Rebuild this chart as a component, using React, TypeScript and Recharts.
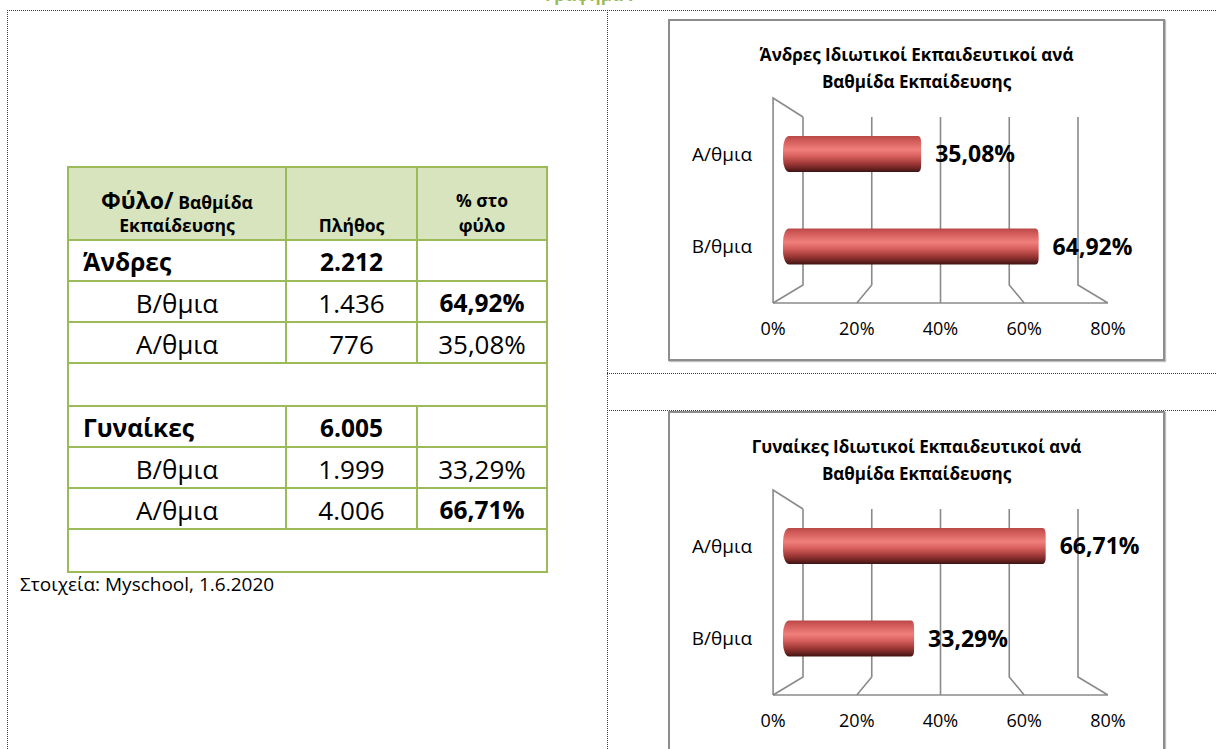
import React from 'react';
import { BarChart, Bar, XAxis, YAxis, LabelList, CartesianGrid } from 'recharts';

// ---------------- data ----------------
const categories = ['Α/θμια', 'Β/θμια'];
const menShare = [35.08, 64.92];
const womenShare = [66.71, 33.29];
const shareTicks = [0, 20, 40, 60, 80];
const menTitle = ['Άνδρες Ιδιωτικοί Εκπαιδευτικοί ανά', 'Βαθμίδα Εκπαίδευσης'];
const womenTitle = ['Γυναίκες Ιδιωτικοί Εκπαιδευτικοί ανά', 'Βαθμίδα Εκπαίδευσης'];

const groupNames = ['Άνδρες', 'Γυναίκες'];
const groupTotals = [2212, 6005];
const tableLevels = ['Β/θμια', 'Α/θμια'];
const menCounts = [1436, 776];
const womenCounts = [1999, 4006];
const headerBig = 'Φύλο/';
const headerSmall = ['Βαθμίδα', 'Εκπαίδευσης'];
const headerCount = 'Πλήθος';
const headerShare = ['% στο', 'φύλο'];
const sourceNote = 'Στοιχεία: Myschool, 1.6.2020';
const pageTitle = 'Γράφημα 7';

// ---------------- style / layout ----------------
const FONT = '"Open Sans", "Noto Sans", "DejaVu Sans", sans-serif';
const GREEN = '#9bbb59';
const HEADER_BG = '#d7e4bd';
const FRAME = '#8a8a8a';

const BOX_W = 497;
const BOX_H = 342;
const PLOT_LEFT = 115;
const PLOT_W = 315;
const PLOT_TOP = 89;
const PLOT_H = 185;
const X_AXIS_H = BOX_H - PLOT_TOP - PLOT_H;
const CX = PLOT_LEFT + PLOT_W / 2;
const BACK_K = 0.873;
const FRONT_K = 1.063;

const fmtShare = (v: number) => v.toFixed(2).replace('.', ',') + '%';
const fmtCount = (n: number) => String(n).replace(/\B(?=(\d{3})+(?!\d))/g, '.');

// 3D frame drawn through the grid generator (uses x-axis tick coordinates)
function frameLine(props: any) {
  const { x1, y1, y2, index } = props;
  const top = Math.min(y1, y2);
  const bottom = Math.max(y1, y2);
  const bx = CX + (x1 - CX) * BACK_K;
  const fx = CX + (x1 - CX) * FRONT_K;
  const gTop = top + 9;
  const gBot = bottom - 8;
  const base = bottom + 10;
  const wallTop = top - 10;
  let d = `M${bx},${gTop}L${bx},${gBot}L${fx},${base}`;
  if (Math.abs(x1 - PLOT_LEFT) < 1) {
    d += `M${fx},${base}L${fx},${wallTop}L${bx},${gTop}`;
  }
  if (Math.abs(x1 - (PLOT_LEFT + PLOT_W)) < 1) {
    d += `M${fx},${base}L${2 * CX - fx},${base}`;
  }
  return <path key={`f-${index}`} d={d} stroke={FRAME} strokeWidth={1.6} fill="none" />;
}

function FrontTick(props: any) {
  const { x, y, payload } = props;
  const fx = CX + (x - CX) * FRONT_K;
  return (
    <text x={fx} y={y} dy="0.71em" textAnchor="middle" fontFamily={FONT} fontSize={18} fill="#000">
      {payload.value}%
    </text>
  );
}

function CylinderBar(props: any) {
  const { x, y, width, height, gradId } = props;
  if (width <= 0) return null;
  const rl = 6;
  const ryl = height / 2.6;
  const rr = 3;
  const ryr = 7;
  const x2 = x + width;
  const y2 = y + height;
  const d = `M${x + rl},${y} L${x2 - rr},${y} Q${x2},${y} ${x2},${y + ryr} L${x2},${y2 - ryr} Q${x2},${y2} ${x2 - rr},${y2} L${x + rl},${y2} A${rl},${ryl} 0 0 1 ${x},${y2 - ryl} L${x},${y + ryl} A${rl},${ryl} 0 0 1 ${x + rl},${y} Z`;
  return <path d={d} fill={`url(#${gradId})`} />;
}

function ShareChart({ left, top, title, shares }: { left: number; top: number; title: string[]; shares: number[] }) {
  const data = categories.map((c, i) => ({ cat: c, value: shares[i] }));
  return (
    <div style={{ position: 'absolute', left, top, width: BOX_W, height: BOX_H }}>
      <div
        style={{
          position: 'absolute', left: 0, top: 0, width: BOX_W, height: BOX_H, boxSizing: 'border-box',
          border: '2px solid #8d8d8d', boxShadow: '1px 1px 1px rgba(0,0,0,0.25)', background: '#fff',
        }}
      />
      <div
        style={{
          position: 'absolute', left: 0, top: 21.5, width: BOX_W, textAlign: 'center', fontFamily: FONT,
          fontWeight: 700, fontSize: 17, lineHeight: '27px', color: '#000', whiteSpace: 'nowrap',
        }}
      >
        {title.map((t, i) => (
          <div key={i}>{t}</div>
        ))}
      </div>
      <div style={{ position: 'absolute', left: 0, top: 0 }}>
        <BarChart
          width={BOX_W}
          height={BOX_H}
          data={data}
          layout="vertical"
          margin={{ top: PLOT_TOP, right: BOX_W - PLOT_LEFT - PLOT_W, bottom: 0, left: 0 }}
        >
          <CartesianGrid horizontal={false} vertical={frameLine} />
          <XAxis
            type="number"
            domain={[0, 80]}
            ticks={shareTicks}
            interval={0}
            axisLine={false}
            tickLine={false}
            tickSize={0}
            tickMargin={29}
            height={X_AXIS_H}
            tick={(p: any) => <FrontTick {...p} />}
          />
          <YAxis
            type="category"
            dataKey="cat"
            width={PLOT_LEFT}
            axisLine={false}
            tickLine={false}
            tickSize={0}
            tickMargin={31}
            tick={{ fill: '#000', fontSize: 19, fontFamily: FONT }}
          />
          <Bar
            dataKey="value"
            barSize={36}
            isAnimationActive={false}
            shape={(p: any) => <CylinderBar {...p} gradId="cylGrad" />}
          >
            <LabelList
              dataKey="value"
              position="right"
              offset={14}
              formatter={(v: any) => fmtShare(Number(v))}
              fill="#000"
              fontSize={23}
              fontWeight={700}
              fontFamily={FONT}
            />
          </Bar>
        </BarChart>
      </div>
    </div>
  );
}

// ---------------- table ----------------
const COL_X = [68, 286, 417, 547];
const HEADER_H = 73;
const ROW_H = 41;
const BLANK_H = 43;
const TABLE_TOP = 167;

function Txt({ x, cy, anchor, size, weight, children }: any) {
  const w = 300;
  return (
    <div
      style={{
        position: 'absolute', top: cy - 15, height: 30, lineHeight: '30px',
        left: anchor === 'middle' ? x - w / 2 : x, width: w,
        textAlign: anchor === 'middle' ? 'center' : 'left',
        fontFamily: FONT, fontSize: size, fontWeight: weight, color: '#000', whiteSpace: 'nowrap',
      }}
    >
      {children}
    </div>
  );
}

function DataTable() {
  type Row = { kind: 'group' | 'level' | 'blank'; g: number; l?: number };
  const rows: Row[] = [];
  groupNames.forEach((_, g) => {
    rows.push({ kind: 'group', g });
    tableLevels.forEach((_, l) => rows.push({ kind: 'level', g, l }));
    rows.push({ kind: 'blank', g });
  });
  const ys: number[] = [TABLE_TOP, TABLE_TOP + HEADER_H];
  rows.forEach((r) => ys.push(ys[ys.length - 1] + (r.kind === 'blank' ? BLANK_H : ROW_H)));
  const bottom = ys[ys.length - 1];
  const colC = [0, 1, 2].map((i) => (COL_X[i] + COL_X[i + 1]) / 2);
  const els: any[] = [];

  els.push(
    <div key="hbg" style={{ position: 'absolute', left: COL_X[0], top: TABLE_TOP, width: COL_X[3] - COL_X[0], height: HEADER_H, background: HEADER_BG }} />
  );
  ys.forEach((y, i) =>
    els.push(<div key={`h${i}`} style={{ position: 'absolute', left: COL_X[0] - 1, top: y - 1, width: COL_X[3] - COL_X[0] + 2, height: 2, background: GREEN }} />)
  );
  [COL_X[0], COL_X[3]].forEach((x, i) =>
    els.push(<div key={`vo${i}`} style={{ position: 'absolute', left: x - 1, top: TABLE_TOP - 1, width: 2, height: bottom - TABLE_TOP + 2, background: GREEN }} />)
  );
  const segs: [number, number][] = [[ys[0], ys[1]]];
  rows.forEach((r, i) => {
    if (r.kind !== 'blank') segs.push([ys[i + 1], ys[i + 2]]);
  });
  segs.forEach(([a, b], si) =>
    [COL_X[1], COL_X[2]].forEach((x, ci) =>
      els.push(<div key={`vi${si}-${ci}`} style={{ position: 'absolute', left: x - 1, top: a - 1, width: 2, height: b - a + 2, background: GREEN }} />)
    )
  );

  const h1 = TABLE_TOP + 33;
  const h2 = TABLE_TOP + 58;
  els.push(
    <Txt key="th1" x={colC[0]} cy={h1} anchor="middle" size={17.5} weight={700}>
      <span style={{ fontSize: 23 }}>{headerBig}</span> {headerSmall[0]}
    </Txt>
  );
  els.push(<Txt key="th2" x={colC[0]} cy={h2} anchor="middle" size={17.5} weight={700}>{headerSmall[1]}</Txt>);
  els.push(<Txt key="th3" x={colC[1]} cy={h2} anchor="middle" size={17.5} weight={700}>{headerCount}</Txt>);
  els.push(<Txt key="th4" x={colC[2]} cy={h1} anchor="middle" size={17.5} weight={700}>{headerShare[0]}</Txt>);
  els.push(<Txt key="th5" x={colC[2]} cy={h2} anchor="middle" size={17.5} weight={700}>{headerShare[1]}</Txt>);

  rows.forEach((r, i) => {
    const cy = (ys[i + 1] + ys[i + 2]) / 2 + 1.5;
    const shares = r.g === 0 ? menShare : womenShare;
    const counts = r.g === 0 ? menCounts : womenCounts;
    if (r.kind === 'group') {
      els.push(<Txt key={`g${i}`} x={COL_X[0] + 15} cy={cy} anchor="start" size={24.5} weight={700}>{groupNames[r.g]}</Txt>);
      els.push(<Txt key={`gt${i}`} x={colC[1]} cy={cy} anchor="middle" size={24.5} weight={700}>{fmtCount(groupTotals[r.g])}</Txt>);
    } else if (r.kind === 'level') {
      const lvl = tableLevels[r.l!];
      const share = shares[categories.indexOf(lvl)];
      const isMax = share === Math.max(...shares);
      els.push(<Txt key={`l${i}`} x={colC[0]} cy={cy} anchor="middle" size={26} weight={400}>{lvl}</Txt>);
      els.push(<Txt key={`lc${i}`} x={colC[1]} cy={cy} anchor="middle" size={26} weight={400}>{fmtCount(counts[r.l!])}</Txt>);
      els.push(<Txt key={`ls${i}`} x={colC[2]} cy={cy} anchor="middle" size={isMax ? 24.5 : 26} weight={isMax ? 700 : 400}>{fmtShare(share)}</Txt>);
    }
  });
  els.push(<Txt key="src" x={20} cy={bottom + 12} anchor="start" size={19} weight={400}>{sourceNote}</Txt>);
  return <>{els}</>;
}

export default function App() {
  return (
    <div style={{ position: 'absolute', left: 0, top: 0, width: 1216, height: 749, overflow: 'hidden', background: '#fff' }}>
      <svg width={1216} height={749} style={{ position: 'absolute', left: 0, top: 0 }}>
        <defs>
          <linearGradient id="cylGrad" x1="0" y1="0" x2="0" y2="1">
            <stop offset="0%" stopColor="#b84846" />
            <stop offset="12%" stopColor="#cf5a57" />
            <stop offset="38%" stopColor="#f07f7c" />
            <stop offset="55%" stopColor="#d9615e" />
            <stop offset="78%" stopColor="#9a3634" />
            <stop offset="92%" stopColor="#632120" />
            <stop offset="100%" stopColor="#3e1312" />
          </linearGradient>
        </defs>
        <text x={545} y={1} fontFamily={FONT} fontWeight={700} fontSize={17} fill={GREEN}>{pageTitle}</text>
        <g stroke="#3a3a3a" strokeWidth={1} strokeDasharray="1 1" fill="none">
          <line x1={7} y1={10.5} x2={1216} y2={10.5} />
          <line x1={7.5} y1={10} x2={7.5} y2={749} />
          <line x1={607.5} y1={10} x2={607.5} y2={749} />
          <line x1={607} y1={373.5} x2={1216} y2={373.5} />
          <line x1={607} y1={410.5} x2={1216} y2={410.5} />
        </g>
      </svg>
      <DataTable />
      <ShareChart left={668} top={19} title={menTitle} shares={menShare} />
      <ShareChart left={668} top={411} title={womenTitle} shares={womenShare} />
    </div>
  );
}
